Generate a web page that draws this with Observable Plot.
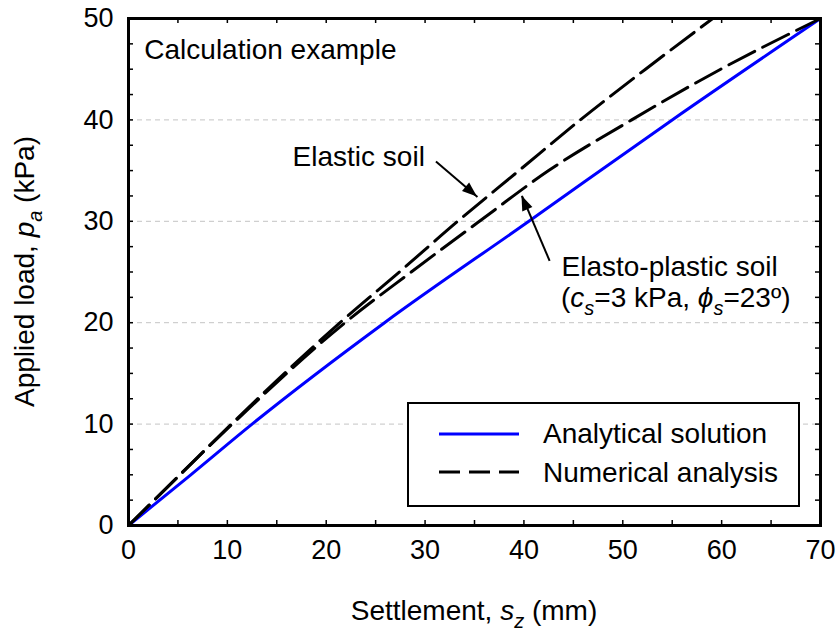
<!DOCTYPE html>
<html><head><meta charset="utf-8">
<script src="https://cdn.jsdelivr.net/npm/d3@7"></script>
<script src="https://cdn.jsdelivr.net/npm/@observablehq/plot@0.6"></script>
<style>
body{margin:0;background:#fff;}
#chart{width:840px;height:637px;}
svg text{font-family:"Liberation Sans",Arial,sans-serif;}
</style></head><body><div id="chart"></div>
<script>
// ---- data ----
const analyticalSettlement = [0, 6.3, 12.5, 25.9, 40.5, 55.0, 70.0];
const analyticalLoad       = [0, 5, 10, 20, 30, 40, 50];
const elasticSettlement    = [0, 5.2, 10.4, 21.4, 27.4, 33.3, 39.5, 45.7, 52.3, 59.1];
const elasticLoad          = [0, 5, 10, 20, 25, 30, 35, 40, 45, 50];
const plasticSettlement    = [0, 5.2, 10.5, 21.9, 28.6, 35.5, 42.5, 50.9, 59.9, 70.0];
const plasticLoad          = [0, 5, 10, 20, 25, 30, 35, 40, 45, 50];

const xTickLabels = [0, 10, 20, 30, 40, 50, 60, 70];
const yTickLabels = [0, 10, 20, 30, 40, 50];
const xMinorTicks = [0, 5, 10, 15, 20, 25, 30, 35, 40, 45, 50, 55, 60, 65, 70];
const yMinorTicks = [0, 2.5, 5, 7.5, 10, 12.5, 15, 17.5, 20, 22.5, 25, 27.5, 30, 32.5, 35, 37.5, 40, 42.5, 45, 47.5, 50];
const gridLoads = [10, 20, 30, 40];

const seriesNames = ["Analytical solution", "Numerical analysis"];
const xAxisTitle = ["Settlement, ", "s", "z", " (mm)"];
const yAxisTitle = ["Applied load, ", "p", "a", " (kPa)"];

const noteTexts = ["Calculation example", "Elastic soil", "Elasto-plastic soil"];
const noteX = [1.6, 16.6, 43.8];
const noteY = [46.05, 35.5, 24.65];
const note2Parts = ["(", "c", "s", "=3 kPa, ", "ϕ", "s", "=23º)"];
const note2X = 43.8, note2Y = 21.5;

// arrows: tail -> tip
const arrowX1 = [31.1, 42.6];
const arrowY1 = [35.9, 26.1];
const arrowX2 = [35.3, 39.8];
const arrowY2 = [32.4, 32.5];

// ---- tables ----
const analytical = analyticalSettlement.map((s, i) => ({s, p: analyticalLoad[i]}));
const elastic = elasticSettlement.map((s, i) => ({s, p: elasticLoad[i]}));
const plastic = plasticSettlement.map((s, i) => ({s, p: plasticLoad[i]}));
const notes = noteTexts.map((t, i) => ({t, x: noteX[i], y: noteY[i]}));
const arrows = arrowX1.map((d, i) => ({x1: d, y1: arrowY1[i], x2: arrowX2[i], y2: arrowY2[i]}));

const W = 840, H = 637, mL = 128, mR = 20, mT = 18, mB = 112;
const innerW = W - mL - mR, innerH = H - mT - mB;

const chart = Plot.plot({
  width: W, height: H,
  marginLeft: mL, marginRight: mR, marginTop: mT, marginBottom: mB,
  style: {background: "white", fontFamily: "Liberation Sans, Arial, sans-serif", overflow: "visible", color: "black"},
  x: {domain: [0, 70], label: null},
  y: {domain: [0, 50], label: null},
  marks: [
    Plot.ruleY(gridLoads, {y: d => d, stroke: "#c4c4c4", strokeWidth: 1, strokeDasharray: "5,4"}),
    Plot.line(analytical, {x: "s", y: "p", stroke: "#0000ff", strokeWidth: 3, curve: "monotone-x"}),
    Plot.line(elastic, {x: "s", y: "p", stroke: "black", strokeWidth: 3, strokeDasharray: "29,9", curve: "monotone-x"}),
    Plot.line(plastic, {x: "s", y: "p", stroke: "black", strokeWidth: 3, strokeDasharray: "29,9", curve: "monotone-x"}),
    Plot.tickX(xMinorTicks, {x: d => d, insetTop: innerH - 5, stroke: "black", strokeWidth: 1.5}),
    Plot.tickX(xMinorTicks, {x: d => d, insetBottom: innerH - 5, stroke: "black", strokeWidth: 1.5}),
    Plot.tickY(yMinorTicks, {y: d => d, insetRight: innerW - 5, stroke: "black", strokeWidth: 1.5}),
    Plot.tickY(yMinorTicks, {y: d => d, insetLeft: innerW - 5, stroke: "black", strokeWidth: 1.5}),
    Plot.frame({stroke: "black", strokeWidth: 3}),
    Plot.axisX(xTickLabels, {tickSize: 0, tickPadding: 14, fontSize: 27, label: null}),
    Plot.axisY(yTickLabels, {tickSize: 0, tickPadding: 15, fontSize: 27, label: null}),
    Plot.link(arrows, {x1: "x1", y1: "y1", x2: "x2", y2: "y2", stroke: "black", strokeWidth: 2}),
    Plot.text(notes, {x: "x", y: "y", text: "t", textAnchor: "start", lineAnchor: "bottom", fontSize: 28, fill: "black"})
  ]
});
document.getElementById("chart").appendChild(chart);

const sx = chart.scale("x"), sy = chart.scale("y");
const X = v => sx.apply(v), Y = v => sy.apply(v);
const svg = d3.select(chart);

// arrow heads (filled)
arrows.forEach(a => {
  const x1 = X(a.x1), y1 = Y(a.y1), x2 = X(a.x2), y2 = Y(a.y2);
  const dx = x2 - x1, dy = y2 - y1, L = Math.hypot(dx, dy);
  const ux = dx / L, uy = dy / L, len = 15, hw = 5.5;
  const bx = x2 - ux * len, by = y2 - uy * len;
  svg.append("path")
    .attr("d", `M${x2},${y2}L${bx - uy * hw},${by + ux * hw}L${bx + uy * hw},${by - ux * hw}Z`)
    .attr("fill", "black");
});

// rich text helper
function rich(sel, parts, italicIdx, subIdx) {
  parts.forEach((p, i) => {
    const t = sel.append("tspan").text(p);
    if (italicIdx.includes(i)) t.style("font-style", "italic");
    if (subIdx.includes(i)) t.attr("dy", 8).style("font-size", "20px");
    else if (subIdx.includes(i - 1)) t.attr("dy", -8);
  });
}

// second annotation line
const n2 = svg.append("text").attr("x", X(note2X)).attr("y", Y(note2Y))
  .attr("text-anchor", "start").style("font-size", "28px").attr("fill", "black");
rich(n2, note2Parts, [1, 2, 4, 5], [2, 5]);

// x axis title
const xt = svg.append("text")
  .attr("x", (X(0) + X(70)) / 2).attr("y", 620)
  .attr("text-anchor", "middle").style("font-size", "28px").attr("fill", "black");
rich(xt, xAxisTitle, [1, 2], [2]);

// y axis title
const yt = svg.append("text")
  .attr("transform", `translate(34,${(Y(0) + Y(50)) / 2}) rotate(-90)`)
  .attr("text-anchor", "middle").style("font-size", "28px").attr("fill", "black");
rich(yt, yAxisTitle, [1, 2], [2]);

// legend
const lg = svg.append("g");
lg.append("rect").attr("x", 408).attr("y", 403).attr("width", 391).attr("height", 103)
  .attr("fill", "white").attr("stroke", "black").attr("stroke-width", 2);
lg.append("line").attr("x1", 439).attr("x2", 519).attr("y1", 434).attr("y2", 434)
  .attr("stroke", "#0000ff").attr("stroke-width", 3);
lg.append("line").attr("x1", 439).attr("x2", 519).attr("y1", 472).attr("y2", 472)
  .attr("stroke", "black").attr("stroke-width", 3).attr("stroke-dasharray", "21,9");
seriesNames.forEach((n, i) => {
  lg.append("text").attr("x", 543).attr("y", 443 + i * 39).attr("text-anchor", "start")
    .style("font-size", "28px").attr("fill", "black").text(n);
});
</script></body></html>
